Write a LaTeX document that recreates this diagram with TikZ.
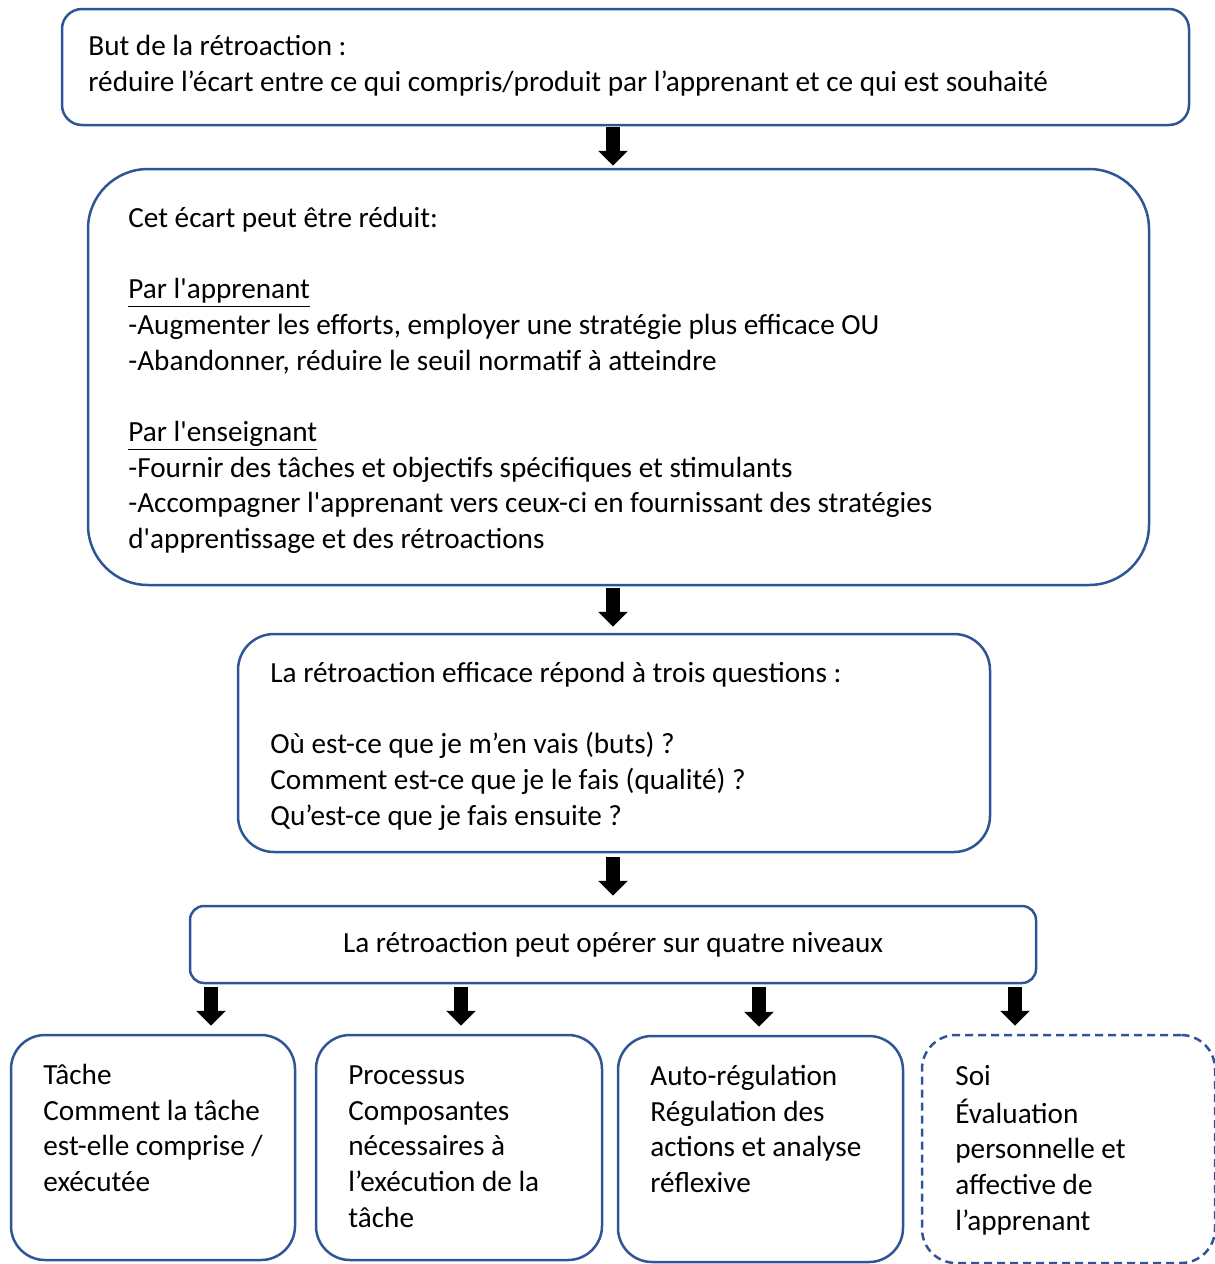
\documentclass[tikz,border=0pt]{standalone}
\usepackage{fontspec}
\setmainfont{Carlito}
\usetikzlibrary{arrows.meta}
\definecolor{boxblue}{RGB}{47,85,151}
\tikzset{
  box/.style={draw=boxblue, line width=1.25pt, rectangle, rounded corners=#1, inner sep=0pt,
    font=\fontsize{14.6}{17.85}\selectfont},
  box/.default=10pt,
  boxtext/.style={anchor=north west, align=left, inner sep=0pt, font=\fontsize{14.6}{17.85}\selectfont},
  blockarrow/.style={line width=6.8pt, -{Triangle[width=14.5pt,length=7.5pt]}},
}
\begin{document}
\begin{tikzpicture}[x=0.5pt, y=-0.5pt]
    \useasboundingbox (0,0) rectangle (1215,1264);

    % But de la retroaction
    \node[box=10pt, minimum width=563.5pt, minimum height=58pt] (but) at (625.5,67) {};
    \node[boxtext] at (88,30) {\strut But de la rétroaction :\\
        réduire l’écart entre ce qui compris/produit par l’apprenant et ce qui est souhaité};

    % Ecart
    \node[box=30pt, minimum width=530.5pt, minimum height=208pt] (ecart) at (618.5,377) {};
    \node[boxtext] at (128,202) {\strut Cet écart peut être réduit:\\[17.85pt]
        \underline{Par l\textquotesingle apprenant}\\
        -Augmenter les efforts, employer une stratégie plus efficace OU\\
        -Abandonner, réduire le seuil normatif à atteindre\\[17.85pt]
        \underline{Par l\textquotesingle enseignant}\\
        -Fournir des tâches et objectifs spécifiques et stimulants\\
        -Accompagner l\textquotesingle apprenant vers ceux-ci en fournissant des stratégies\\
        d\textquotesingle apprentissage et des rétroactions};

    % Trois questions
    \node[box=18pt, minimum width=376pt, minimum height=109pt] (questions) at (614,743) {};
    \node[boxtext] at (270,657) {\strut La rétroaction efficace répond à trois questions :\\[17.85pt]
        Où est-ce que je m’en vais (buts) ?\\
        Comment est-ce que je le fais (qualité) ?\\
        Qu’est-ce que je fais ensuite ?};

    % Quatre niveaux
    \node[box=7pt, minimum width=423pt, minimum height=38.5pt] (niveaux) at (613,944.5)
        {La rétroaction peut opérer sur quatre niveaux};

    % Les quatre niveaux
    \node[box=17pt, minimum width=142pt, minimum height=112.5pt] (tache) at (153,1147.5) {};
    \node[boxtext] at (43,1059) {\strut Tâche\\ Comment la tâche\\ est-elle comprise /\\ exécutée};

    \node[box=17pt, minimum width=143pt, minimum height=112.5pt] (processus) at (459,1147.5) {};
    \node[boxtext] at (348,1059) {\strut Processus\\ Composantes\\ nécessaires à\\ l’exécution de la\\ tâche};

    \node[box=17pt, minimum width=142.5pt, minimum height=113pt] (autoreg) at (760.5,1149) {};
    \node[boxtext] at (650,1060) {\strut Auto-régulation\\ Régulation des\\ actions et analyse\\ réflexive};

    \node[box=17pt, dash pattern=on 4pt off 2.5pt, minimum width=146.5pt, minimum height=114pt] (soi) at (1068.5,1149) {};
    \node[boxtext] at (955,1060) {\strut Soi\\[1pt] Évaluation\\ personnelle et\\ affective de\\ l’apprenant};

    % Fleches
    \coordinate (axis) at (613,0);
    \draw[blockarrow, shorten <=0.5pt, shorten >=1pt] (but.south -| axis) -- (ecart.north -| axis);
    \draw[blockarrow, shorten <=1pt, shorten >=3pt] (ecart.south -| axis) -- (questions.north -| axis);
    \draw[blockarrow, shorten <=2pt, shorten >=4.5pt] (questions.south -| axis) -- (niveaux.north -| axis);
    \foreach \ax/\target in {211/tache, 461/processus, 759/autoreg, 1015/soi} {
        \coordinate (col) at (\ax,0);
        \draw[blockarrow, shorten <=1.5pt, shorten >=4pt] (niveaux.south -| col) -- (\target.north -| col);
    }

\end{tikzpicture}
\end{document}
